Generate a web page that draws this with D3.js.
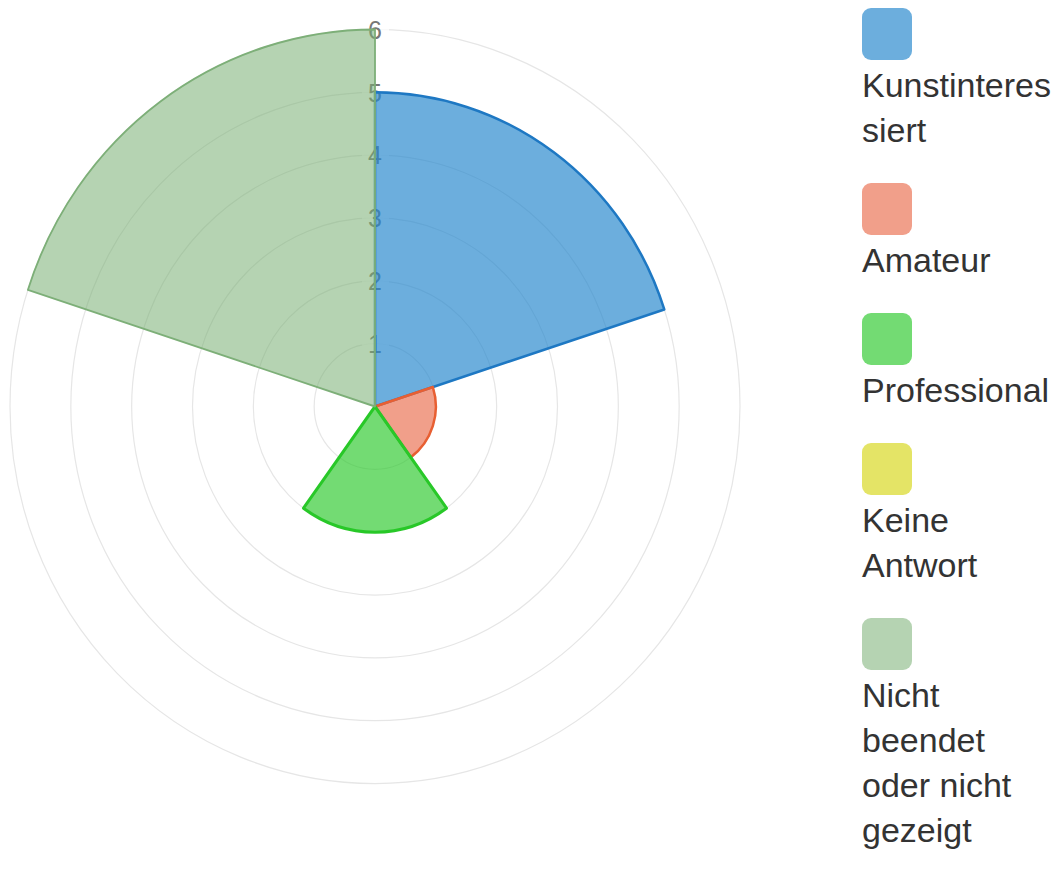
<!DOCTYPE html>
<html>
<head>
<meta charset="utf-8">
<script src="https://cdn.jsdelivr.net/npm/d3@7"></script>
<style>
  html, body { margin: 0; padding: 0; background: #fff; }
  svg { display: block; font-family: "Liberation Sans", Arial, sans-serif; }
</style>
</head>
<body>
<script>
'use strict';

var width = 1063, height = 872;

// data
var categories = ['Kunstinteressiert', 'Amateur', 'Professional', 'Keine Antwort', 'Nicht beendet oder nicht gezeigt'];
var counts = [5, 1, 2, 0, 6];
var legendLines = [['Kunstinteres', 'siert'], ['Amateur'], ['Professional'], ['Keine', 'Antwort'], ['Nicht', 'beendet', 'oder nicht', 'gezeigt']];
var fills = ['rgba(38,135,205,0.68)', 'rgba(232,95,60,0.6)', 'rgba(40,200,40,0.65)', 'rgba(215,215,30,0.68)', 'rgba(120,175,115,0.55)'];
var strokes = ['rgb(30,120,195)', 'rgb(232,95,50)', 'rgb(40,200,40)', 'rgb(205,205,30)', 'rgb(125,175,120)'];
var strokeWidths = [2.5, 2.5, 3, 2, 1.8];
var tickValues = [1, 2, 3, 4, 5, 6];

var cx = 375, cy = 406.5, outer = 365;

var svg = d3.select('body').append('svg')
  .attr('width', width)
  .attr('height', height);

var r = d3.scaleLinear().domain([0, 6]).range([0, outer]);
var angle = d3.scaleBand().domain(categories).range([0, 2 * Math.PI]);

var g = svg.append('g')
  .attr('transform', 'translate(' + cx + ',' + cy + ') scale(1,1.033)');

// grid rings
g.selectAll('.ring')
  .data(tickValues)
  .enter()
  .append('circle')
  .attr('class', 'ring')
  .attr('r', function(d) { return r(d); })
  .attr('fill', 'none')
  .attr('stroke', '#e6e6e6')
  .attr('stroke-width', 1.2);

// tick labels with backdrop
var tick = g.selectAll('.tick')
  .data(tickValues)
  .enter()
  .append('g')
  .attr('class', 'tick')
  .attr('transform', function(d) { return 'translate(0,' + (-r(d)) + ')'; });

tick.append('rect')
  .attr('x', -13).attr('y', -17)
  .attr('width', 27).attr('height', 34)
  .attr('fill', 'rgba(255,255,255,0.75)');

tick.append('text')
  .attr('text-anchor', 'middle')
  .attr('dy', '0.36em')
  .attr('font-size', 25)
  .attr('fill', '#777')
  .text(function(d) { return d; });

// segments
var arc = d3.arc()
  .innerRadius(0)
  .outerRadius(function(d, i) { return r(d); })
  .startAngle(function(d, i) { return angle(categories[i]); })
  .endAngle(function(d, i) { return angle(categories[i]) + angle.bandwidth(); });

g.selectAll('.seg')
  .data(counts)
  .enter()
  .append('path')
  .attr('class', 'seg')
  .attr('d', function(d, i) { return arc(d, i); })
  .attr('fill', function(d, i) { return fills[i]; })
  .attr('stroke', function(d, i) { return d > 0 ? strokes[i] : 'none'; })
  .attr('stroke-width', function(d, i) { return strokeWidths[i]; })
  .attr('stroke-linejoin', 'round');

// legend
var legend = svg.append('g').attr('transform', 'translate(862,0)');
var y = 8;
categories.forEach(function(c, i) {
  var item = legend.append('g').attr('transform', 'translate(0,' + y + ')');
  item.append('rect')
    .attr('width', 50).attr('height', 52)
    .attr('rx', 9).attr('ry', 9)
    .attr('fill', fills[i]);
  item.selectAll('text')
    .data(legendLines[i])
    .enter()
    .append('text')
    .attr('x', 0)
    .attr('y', function(d, j) { return 89 + j * 45; })
    .attr('font-size', 34)
    .attr('fill', '#333')
    .text(function(d) { return d; });
  y += 89 + (legendLines[i].length - 1) * 45 + 41;
});
</script>
</body>
</html>
